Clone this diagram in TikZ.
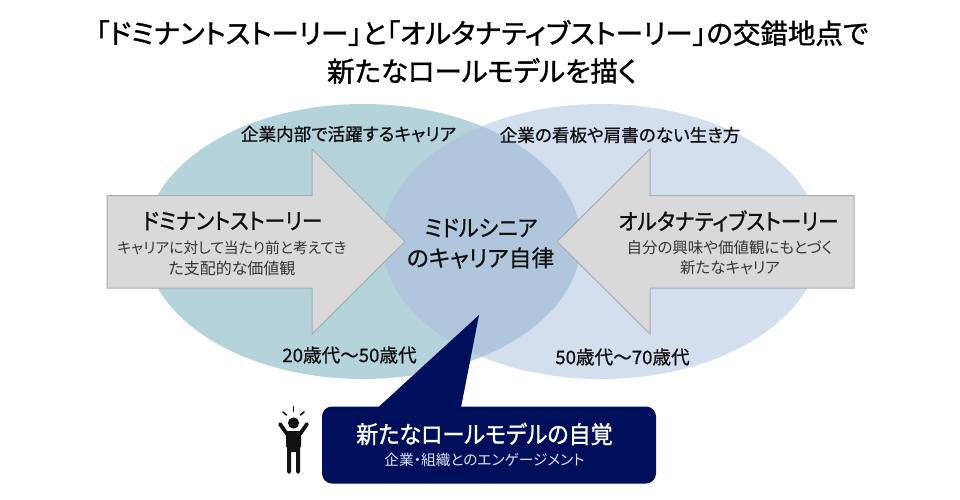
\documentclass[tikz,border=0pt]{standalone}
\usepackage{fontspec}
\setmainfont[RawFeature=+palt]{Noto Sans CJK JP}
\newfontfamily\jpb[RawFeature=+palt,FakeBold=1.2]{Noto Sans CJK JP}
\newfontfamily\jph[RawFeature=+palt,FakeBold=1.2,FakeStretch=0.92]{Noto Sans CJK JP}
\newfontfamily\jpm[RawFeature=+palt,FakeBold=0.8]{Noto Sans CJK JP}
\newfontfamily\jpn[RawFeature=+palt,FakeBold=0.8,FakeStretch=0.92]{Noto Sans CJK JP}
\newcommand{\fs}[1]{\fontsize{#1}{#1}\selectfont}
\definecolor{ltl}{HTML}{B5D3DB}
\definecolor{ltr}{HTML}{D3DEEF}
\definecolor{lap}{HTML}{AFC6DC}
\definecolor{arrowfill}{HTML}{D9D9D9}
\definecolor{arrowline}{HTML}{A9ADAE}
\definecolor{navy}{HTML}{000F5C}
\definecolor{ink}{HTML}{111111}
\tikzset{
  x=1pt,y=-1pt,
  arrowshape/.style={fill=arrowfill,draw=arrowline,line width=1pt,line join=miter},
  titletext/.style={font=\jpb\fs{27.5},text=black,inner sep=0pt,anchor=center},
  headtext/.style={font=\jph\fs{22.5},text=ink,inner sep=0pt,anchor=center},
  subtext/.style={text=ink!85!white,inner sep=0pt,anchor=center},
  labeltext/.style={font=\jpm\fs{17.6},text=ink,inner sep=0pt,anchor=center},
  agetext/.style={font=\jpm\fs{18.6},text=ink,inner sep=0pt,anchor=center},
}
\begin{document}
\begin{tikzpicture}
\useasboundingbox (0,0) rectangle (960,500);
\fill[white] (0,0) rectangle (960,500);
% ellipses
\fill[ltl] (363,241.5) ellipse [x radius=218,y radius=137.5];
\fill[ltr] (601,241.5) ellipse [x radius=219,y radius=137.5];
\begin{scope}
\clip (363,241.5) ellipse [x radius=218,y radius=137.5];
\fill[lap] (601,241.5) ellipse [x radius=219,y radius=137.5];
\end{scope}
% arrows
\draw[arrowshape] (107,195.5) -- (312,195.5) -- (312,149) -- (405,241.5) -- (312,334) -- (312,288) -- (107,288) -- cycle;
\draw[arrowshape] (854,195.5) -- (650,195.5) -- (650,149) -- (557,241.5) -- (650,334) -- (650,288) -- (854,288) -- cycle;
% callout
\fill[navy,rounded corners=10pt] (322,406.5) rectangle (656,483.5);
\fill[navy] (378,407.5) -- (479,315) -- (461,407.5) -- cycle;
% person
\fill[ink] (293.5,423) circle (5.6);
\fill[ink] (286,431) -- (301,431) -- (301,447) -- (300,447) -- (300,472) arc[start angle=0,end angle=180,radius=1.9] -- (296.2,452) -- (291,452) -- (291,472) arc[start angle=0,end angle=180,radius=1.9] -- (287.2,447) -- (286,447) -- cycle;
\draw[ink,line width=3.8pt,line cap=round,line join=round] (280,424) -- (287,434);
\draw[ink,line width=3.8pt,line cap=round,line join=round] (307,424) -- (300,434);
\draw[ink,line width=1.6pt,line cap=round] (293.5,406.5) -- (293.5,411);
\draw[ink,line width=1.6pt,line cap=round] (283,412) -- (286.5,415);
\draw[ink,line width=1.6pt,line cap=round] (304,412) -- (300.5,415);
% texts
\node[titletext] (t1) at (482,33) {「ドミナントストーリー」と「オルタナティブストーリー」の交錯地点で};
\node[titletext] (t2) at (482,71) {新たなロールモデルを描く};
\node[labeltext] (l1) at (348.5,134) {企業内部で活躍するキャリア};
\node[labeltext] (l2) at (620,135) {企業の看板や肩書のない生き方};
\node[agetext] (l3) at (349.5,355) {20歳代〜50歳代};
\node[agetext] (l4) at (622.5,357) {50歳代〜70歳代};
\node[headtext] (h1) at (232.5,221) {ドミナントストーリー};
\node[subtext,font=\fs{14.8}] (s1) at (232,248) {キャリアに対して当たり前と考えてき};
\node[subtext,font=\fs{16}] (s2) at (232,268) {た支配的な価値観};
\node[headtext] (h2) at (728.5,221) {オルタナティブストーリー};
\node[subtext,font=\fs{15.5}] (s3) at (729.5,248) {自分の興味や価値観にもとづく};
\node[subtext,font=\fs{15.5}] (s4) at (730,268) {新たなキャリア};
\node[font=\jpn\fs{23},text=ink,inner sep=0pt] (c1) at (481,228) {ミドルシニア};
\node[font=\jpm\fs{22.8},text=ink,inner sep=0pt] (c2) at (480.5,258) {のキャリア自律};
\node[font=\jph\fs{24},text=white,inner sep=0pt] (n1) at (484.5,434) {新たなロールモデルの自覚};
\node[font=\fs{14.7},text=white!88!navy,inner sep=0pt] (n2) at (484.5,460) {企業・組織とのエンゲージメント};
\end{tikzpicture}
\end{document}
